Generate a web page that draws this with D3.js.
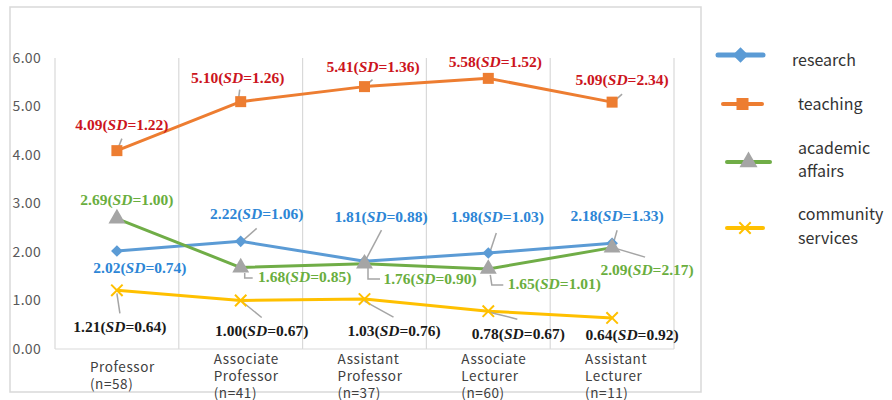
<!DOCTYPE html>
<html>
<head>
<meta charset="utf-8">
<script src="https://cdn.jsdelivr.net/npm/d3@7"></script>
<style>
  body { margin: 0; background: #fff; }
  .tick text { font-family: "Noto Sans CJK JP", "Noto Sans", sans-serif; }
  .dlabel { font-family: "Liberation Serif", serif; font-weight: bold; font-size: 15.5px; }
</style>
</head>
<body>
<div id="chart"></div>
<script>
// mean workload by rank, with SD labels

var categories = ["Professor|(n=58)", "Associate|Professor|(n=41)", "Assistant|Professor|(n=37)",
                  "Associate|Lecturer|(n=60)", "Assistant|Lecturer|(n=11)"];
var yTicks = [0, 1, 2, 3, 4, 5, 6];

var seriesNames = ["research", "teaching", "academic|affairs", "community|services"];
var researchMean = [2.02, 2.22, 1.81, 1.98, 2.18];
var researchSD = [0.74, 1.06, 0.88, 1.03, 1.33];
var teachingMean = [4.09, 5.10, 5.41, 5.58, 5.09];
var teachingSD = [1.22, 1.26, 1.36, 1.52, 2.34];
var academicMean = [2.69, 1.68, 1.76, 1.65, 2.09];
var academicSD = [1.00, 0.85, 0.90, 1.01, 2.17];
var communityMean = [1.21, 1.00, 1.03, 0.78, 0.64];
var communitySD = [0.64, 0.67, 0.76, 0.67, 0.92];

// label placement relative to each point (dx, dy) and leader lines
var labelOffsets = [
    [[23, 17], [16, -28], [16.5, -45], [9, -36], [5, -28]],
    [[5, -26.5], [-3, -24.5], [8.5, -20.5], [7, -16.5], [10, -23]],
    [[10, -18.5], [64, 9.5], [65.5, 15], [66, 15], [35, 22]],
    [[3, 36], [21, 30.5], [29.5, 32], [30, 22], [20, 17]]
];
var leaders = [
    [null, [[-1, 2], [16, -13]], [[0, 1], [17, -31]], [[1, 1], [8, -20]], [[1, 1], [5, -13]]],
    [[[1, -2], [5, -12]], [[-2, -4], [-1, -12]], [[0, 0], [8, -7]], null, [[1, 0], [10, -8]]],
    [null, [[4, 5.5], [4, 10.5], [12, 10.5]], [[3.5, 3.5], [3.5, 15.4], [15.5, 15.4]],
     [[2, 6], [3.5, 16], [15, 16]], [[1, 0], [33, 9.5]]],
    [[[0, 3], [3, 23]], [[0, 0], [21, 17]], [[0, 2], [29, 18]], [[1, 1], [29, 8]], null]
];

var series = [
    {name: seriesNames[0], mean: researchMean, sd: researchSD, color: "#5B9BD5", markColor: "#5B9BD5", labelColor: "#2D86D6", marker: "diamond"},
    {name: seriesNames[1], mean: teachingMean, sd: teachingSD, color: "#ED7D31", markColor: "#ED7D31", labelColor: "#CC1420", marker: "square"},
    {name: seriesNames[2], mean: academicMean, sd: academicSD, color: "#70AD47", markColor: "#A5A5A5", labelColor: "#6AAE3E", marker: "triangle"},
    {name: seriesNames[3], mean: communityMean, sd: communitySD, color: "#FFC000", markColor: "#FFC000", labelColor: "#1A1A1A", marker: "cross"}
];

var svgWidth = 892;
var svgHeight = 400;
var margin = {top: 58, right: 218, bottom: 51, left: 55};

var svg = d3.select("#chart")
    .append("svg")
    .attr("width", svgWidth)
    .attr("height", svgHeight);

// outer frame
svg.append("rect")
    .attr("x", 10).attr("y", 7)
    .attr("width", 691).attr("height", 385)
    .attr("fill", "none")
    .attr("stroke", "#D9D9D9")
    .attr("stroke-width", 1.5);

var xScale = d3.scaleBand()
    .domain(categories)
    .range([margin.left, svgWidth - margin.right]);

var yScale = d3.scaleLinear()
    .domain([0, 6])
    .range([svgHeight - margin.bottom, margin.top]);

var xc = d => xScale(d) + xScale.bandwidth() / 2;

// vertical grid lines at category boundaries
var bounds = categories.map(c => xScale(c)).concat([xScale.range()[1]]);
svg.append("g").selectAll("line")
    .data(bounds)
    .enter()
    .append("line")
    .attr("x1", d => d).attr("x2", d => d)
    .attr("y1", yScale(6)).attr("y2", yScale(0))
    .attr("stroke", "#D9D9D9")
    .attr("stroke-width", 1.2);

svg.append("line")
    .attr("x1", xScale.range()[0]).attr("x2", xScale.range()[1])
    .attr("y1", yScale(0)).attr("y2", yScale(0))
    .attr("stroke", "#D9D9D9")
    .attr("stroke-width", 1.2);

// y axis
var yAxis = d3.axisLeft(yScale).tickValues(yTicks).tickFormat(d3.format(".2f")).tickSize(0).tickPadding(14);
var yG = svg.append("g")
    .attr("transform", `translate(${margin.left},0)`)
    .call(yAxis);
yG.select(".domain").remove();
yG.selectAll("text").attr("fill", "#595959").style("font-size", "14px").style("letter-spacing", "0.3px");

// x axis labels (multi-line, left aligned)
var xG = svg.append("g");
categories.forEach(function(c) {
    var lines = c.split("|");
    var t = xG.append("text")
        .attr("x", xc(c) - 27)
        .attr("fill", "#404040")
        .style("font-family", '"Noto Sans CJK JP", "Noto Sans", sans-serif')
        .style("font-size", "13.5px")
        .style("letter-spacing", "0.6px");
    var startY = 380.5 - (lines.length - 1) * 8.5;
    lines.forEach(function(l, i) {
        t.append("tspan")
            .attr("x", xc(c) - 27)
            .attr("y", startY + i * 17)
            .text(l);
    });
});

var line = d3.line()
    .x((d, i) => xc(categories[i]))
    .y(d => yScale(d));

function drawMarker(g, type, color, size) {
    if (type === "diamond") {
        g.append("path").attr("d", d3.symbol(d3.symbolDiamond2, size * size * 0.6)())
            .attr("fill", color);
    } else if (type === "square") {
        g.append("rect").attr("x", -size / 2).attr("y", -size / 2)
            .attr("width", size).attr("height", size).attr("fill", color);
    } else if (type === "triangle") {
        g.append("path").attr("d", d3.symbol(d3.symbolTriangle, size * size * 0.55)())
            .attr("fill", color);
    } else {
        g.append("path").attr("d", d3.symbol(d3.symbolX, size * size * 0.6)())
            .attr("fill", "none").attr("stroke", color).attr("stroke-width", 2);
    }
}

series.forEach(function(s, si) {
    svg.append("path")
        .datum(s.mean)
        .attr("d", line)
        .attr("fill", "none")
        .attr("stroke", s.color)
        .attr("stroke-width", 3)
        .attr("stroke-linejoin", "round");
});

// leader lines
series.forEach(function(s, si) {
    s.mean.forEach(function(v, i) {
        var ld = leaders[si][i];
        if (!ld) return;
        var px = xc(categories[i]), py = yScale(v);
        svg.append("polyline")
            .attr("points", ld.map(p => (px + p[0]) + "," + (py + p[1])).join(" "))
            .attr("fill", "none")
            .attr("stroke", "#A5A5A5")
            .attr("stroke-width", 1.5);
    });
});

// markers
series.forEach(function(s, si) {
    s.mean.forEach(function(v, i) {
        var g = svg.append("g")
            .attr("transform", `translate(${xc(categories[i])},${yScale(v)})`);
        var size = s.marker === "triangle" ? 15 : (s.marker === "square" ? 11 : 12);
        drawMarker(g, s.marker, s.markColor, size);
    });
});

// data labels
series.forEach(function(s, si) {
    s.mean.forEach(function(v, i) {
        var off = labelOffsets[si][i];
        var t = svg.append("text")
            .attr("class", "dlabel")
            .attr("x", xc(categories[i]) + off[0])
            .attr("y", yScale(v) + off[1])
            .attr("dy", "0.35em")
            .attr("text-anchor", "middle")
            .attr("fill", s.labelColor);
        t.append("tspan").text(v.toFixed(2) + "(");
        t.append("tspan").style("font-style", "italic").text("SD");
        t.append("tspan").text("=" + s.sd[i].toFixed(2) + ")");
    });
});

// legend
var legendLines = [[718, 763, 55], [723, 762, 104], [727, 770, 162], [727, 763, 228]];
var legendText = [[792, [60]], [798, [104]], [798, [148, 171]], [798, [214, 238]]];
series.forEach(function(s, si) {
    var ll = legendLines[si];
    svg.append("line")
        .attr("x1", ll[0]).attr("x2", ll[1])
        .attr("y1", ll[2]).attr("y2", ll[2])
        .attr("stroke", s.color)
        .attr("stroke-width", si === 0 ? 5 : 4)
        .attr("stroke-linecap", "round");
    var g = svg.append("g")
        .attr("transform", `translate(${(ll[0] + ll[1]) / 2},${ll[2]})`);
    drawMarker(g, s.marker, s.markColor, si === 0 ? 16 : (si === 2 ? 16 : 12));
    var lt = legendText[si];
    var t = svg.append("text")
        .attr("fill", "#333")
        .style("font-family", '"Noto Sans CJK JP", "Noto Sans", sans-serif')
        .style("font-size", "16px");
    s.name.split("|").forEach(function(l, k) {
        t.append("tspan").attr("x", lt[0]).attr("y", lt[1][k]).attr("dy", "0.35em").text(l);
    });
});
</script>
</body>
</html>
